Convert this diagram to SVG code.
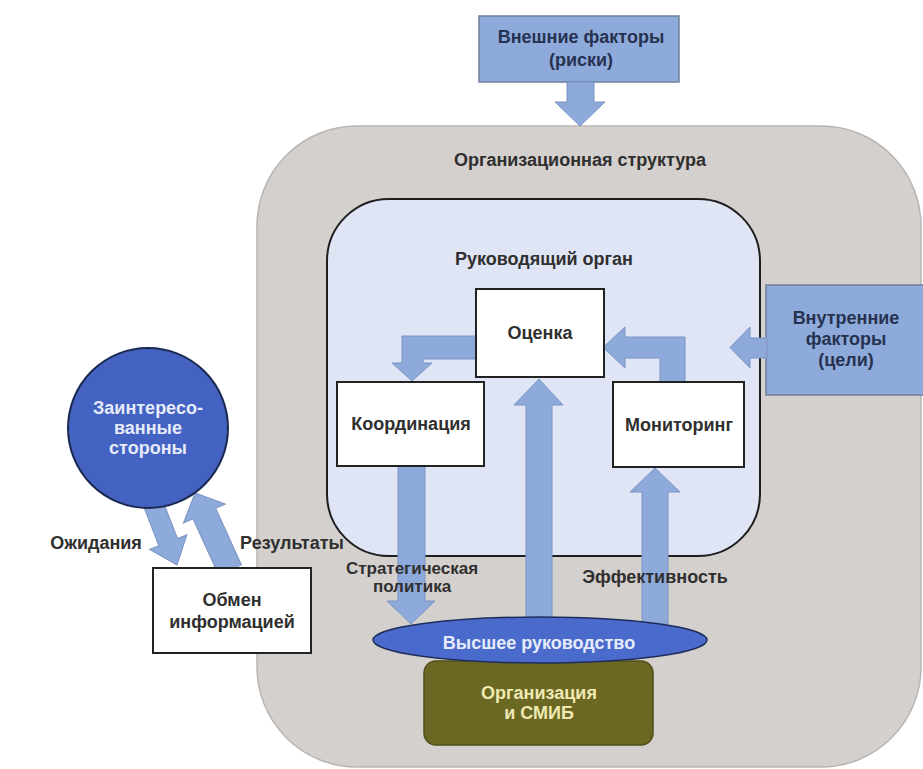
<svg xmlns="http://www.w3.org/2000/svg" width="923" height="769" viewBox="0 0 923 769">
<defs>
<style>
text{font-family:"Liberation Sans",Arial,sans-serif;font-weight:bold;text-anchor:middle;dominant-baseline:central}
.lbl{font-size:18px;fill:#2f2f2f}
.sm{font-size:17px;fill:#2f2f2f}
.navy{font-size:18px;fill:#26324f}
.light{font-size:18px;fill:#e6ebf9}
.cream{font-size:18px;fill:#f1e9b4}
.box{fill:#ffffff;stroke:#222;stroke-width:2}
.fac{fill:#8eaadb;stroke:#6f7f99;stroke-width:1.5}
.arr{fill:#8eaadb;stroke:#7b94c4;stroke-width:1}
</style>
</defs>
<rect x="0" y="0" width="923" height="769" fill="#ffffff"/>

<g id="org-structure">
<rect x="257" y="126" width="664" height="641" rx="100" ry="100" fill="#d4d0cd" stroke="#b9b5b2" stroke-width="1.5"/>
<text class="lbl" x="580" y="160">Организационная структура</text>
</g>

<g id="governing-body">
<rect x="327" y="199" width="433" height="357" rx="62" ry="62" fill="#dfe5f5" stroke="#1e1e1e" stroke-width="2"/>
<text class="lbl" x="544" y="259">Руководящий орган</text>
</g>

<g id="external-factors">
<rect class="fac" x="479" y="16" width="200" height="66"/>
<text class="navy" x="581" y="37">Внешние факторы</text>
<text class="navy" x="581" y="60">(риски)</text>
</g>

<g id="internal-factors">
<rect class="fac" x="766" y="285" width="160" height="110"/>
<text class="navy" x="846" y="318">Внутренние</text>
<text class="navy" x="846" y="339">факторы</text>
<text class="navy" x="846" y="360">(цели)</text>
</g>

<g id="connectors">
<polygon class="arr" points="567,82 594,82 594,102 605,102 580,126 555,102 567,102"/>
<polygon class="arr" points="767,338 767,358 750,358 750,368 730,347.5 750,327 750,338"/>
<polygon class="arr" points="660,382 685,382 685,337 625,337 625,327 603,347.5 625,368 625,358 660,358"/>
<polygon class="arr" points="476,336 402,336 402,363 392,363 412,381 432,363 423,363 423,359 476,359"/>
<polygon class="arr" points="526,620 526,405 514,405 539,379 563,405 552,405 552,620"/>
<polygon class="arr" points="398,466 425,466 425,601 435,601 411,624 387,601 398,601"/>
<polygon class="arr" points="642,624 642,492 630,492 655,468 680,492 668,492 668,624"/>
<polygon class="arr" transform="translate(153,503) rotate(68.8)" points="0,-10 42,-10 42,-20 66.5,0 42,20 42,10 0,10"/>
<polygon class="arr" transform="translate(230,570) rotate(-114.4)" points="0,-12.5 62,-12.5 62,-23 84.6,0 62,23 62,12.5 0,12.5"/>
<text class="lbl" x="96" y="543">Ожидания</text>
<text class="lbl" x="292" y="543">Результаты</text>
<text class="sm" x="412" y="568">Стратегическая</text>
<text class="sm" x="412" y="586">политика</text>
<text class="lbl" x="655" y="577">Эффективность</text>
</g>

<g id="evaluation">
<rect class="box" x="476" y="289" width="128" height="88"/>
<text class="lbl" x="540" y="333">Оценка</text>
</g>

<g id="coordination">
<rect class="box" x="337" y="382" width="147" height="84"/>
<text class="lbl" x="411" y="424">Координация</text>
</g>

<g id="monitoring">
<rect class="box" x="613" y="382" width="131" height="85"/>
<text class="lbl" x="679" y="425">Мониторинг</text>
</g>

<g id="stakeholders">
<circle cx="148" cy="428" r="80" fill="#4362c2" stroke="#1b2850" stroke-width="2"/>
<text class="light" x="148" y="408">Заинтересо-</text>
<text class="light" x="148" y="428">ванные</text>
<text class="light" x="148" y="448">стороны</text>
</g>

<g id="info-exchange">
<rect class="box" x="153" y="568" width="158" height="85"/>
<text class="lbl" x="232" y="600">Обмен</text>
<text class="lbl" x="232" y="622">информацией</text>
</g>

<g id="organization-isms">
<rect x="424" y="661" width="229" height="84" rx="12" ry="12" fill="#6a6822" stroke="#4f4d18" stroke-width="1.5"/>
<text class="cream" x="539" y="693">Организация</text>
<text class="cream" x="539" y="713">и СМИБ</text>
</g>

<g id="top-management">
<ellipse cx="540" cy="640" rx="167" ry="23" fill="#4a6bcb" stroke="#1f2d5c" stroke-width="1.5"/>
<text class="light" x="539" y="643">Высшее руководство</text>
</g>
</svg>
